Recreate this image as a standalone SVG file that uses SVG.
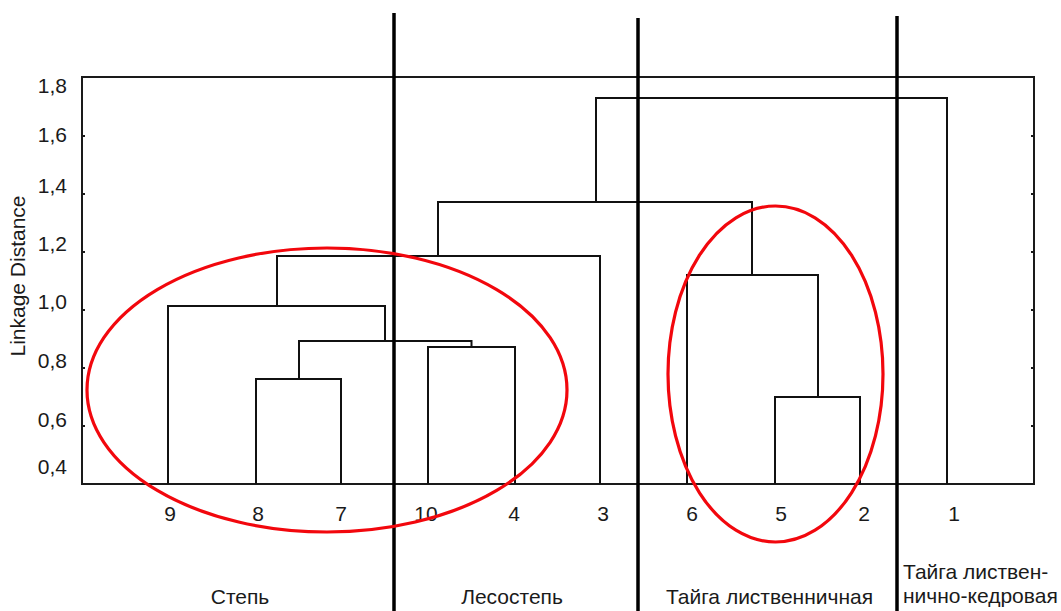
<svg xmlns="http://www.w3.org/2000/svg" width="1061" height="611" viewBox="0 0 1061 611">
<style>
.frame{fill:none;stroke:#1a1a1a;stroke-width:2}
.tick{stroke:#1a1a1a;stroke-width:2}
.link{fill:none;stroke:#111;stroke-width:2;stroke-linejoin:miter}
.sep{stroke:#000;stroke-width:3.5}
.oval{fill:none;stroke:#f2070d;stroke-width:3.2}
text{font-family:"Liberation Sans",Arial,sans-serif;font-size:21px;fill:#1a1a1a}
.num{text-anchor:middle}
.ax{text-anchor:end}
</style>
<rect width="1061" height="611" fill="#fff"/>
<g id="axes">
<rect class="frame" x="82" y="77" width="952" height="407"/>
<path class="tick" d="M82 136h3M82 194h3M82 252h3M82 310h3M82 368h3M82 426h3M1034 136h-3M1034 194h-3M1034 252h-3M1034 310h-3M1034 368h-3M1034 426h-3"/>
<text class="ax" x="67" y="93">1,8</text>
<text class="ax" x="67" y="142">1,6</text>
<text class="ax" x="67" y="193">1,4</text>
<text class="ax" x="67" y="251">1,2</text>
<text class="ax" x="67" y="309">1,0</text>
<text class="ax" x="67" y="368">0,8</text>
<text class="ax" x="67" y="427">0,6</text>
<text class="ax" x="67" y="474">0,4</text>
<text x="0" y="0" text-anchor="middle" transform="translate(25 276) rotate(-90)">Linkage Distance</text>
</g>
<g id="connectors">
<path class="link" d="M256 484V379H341V484"/>
<path class="link" d="M428 484V347H515V484"/>
<path class="link" d="M299 379V341H471.5V347"/>
<path class="link" d="M168 484V306H385V341"/>
<path class="link" d="M277 306V256H600V484"/>
<path class="link" d="M775 484V397H860V484"/>
<path class="link" d="M687 484V275H818V397"/>
<path class="link" d="M438 256V202H752V275"/>
<path class="link" d="M596 202V98H947V484"/>
</g>
<g id="leaves">
<text class="num" x="170" y="521">9</text>
<text class="num" x="258" y="521">8</text>
<text class="num" x="341" y="521">7</text>
<text class="num" x="426" y="521">10</text>
<text class="num" x="514" y="521">4</text>
<text class="num" x="603" y="521">3</text>
<text class="num" x="692" y="521">6</text>
<text class="num" x="781" y="521">5</text>
<text class="num" x="864" y="521">2</text>
<text class="num" x="954" y="521">1</text>
</g>
<g id="separators">
<line class="sep" x1="394" y1="13" x2="394" y2="611"/>
<line class="sep" x1="638" y1="18" x2="638" y2="611"/>
<line class="sep" x1="897" y1="16" x2="897" y2="611"/>
</g>
<g id="clusters">
<ellipse class="oval" cx="327" cy="390" rx="240" ry="142"/>
<ellipse class="oval" cx="775.5" cy="374" rx="107.5" ry="168"/>
</g>
<g id="zones">
<text class="num" x="240" y="604">Степь</text>
<text class="num" x="512" y="604">Лесостепь</text>
<text class="num" x="769.5" y="604">Тайга лиственничная</text>
<text x="903" y="579">Тайга листвен-</text>
<text x="903" y="603">нично-кедровая</text>
</g>
</svg>
